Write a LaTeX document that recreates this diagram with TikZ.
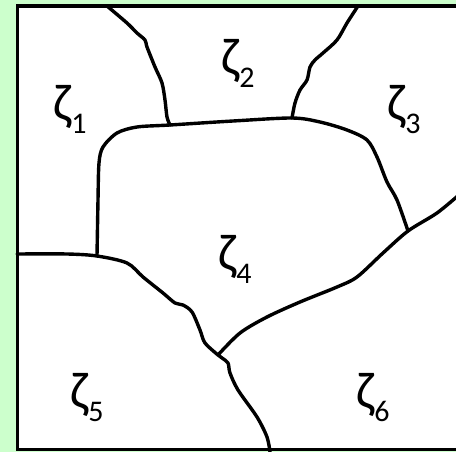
\documentclass[tikz,border=0pt]{standalone}
\usepackage{fontspec}
\setmainfont{Carlito}
\usepackage{tikz}
\usetikzlibrary{positioning}
\definecolor{bggreen}{RGB}{204,255,204}

\tikzset{
  edge/.style={line width=3.4pt,line cap=round,line join=round},
  zlab/.style={font=\fontsize{52}{52}\selectfont,inner sep=0pt}
}
\newcommand{\zsub}[1]{ζ\raisebox{-0.25em}{\fontsize{30}{30}\selectfont #1}}

\begin{document}
\begin{tikzpicture}[x=1pt,y=-1pt]
\fill[bggreen] (0,0) rectangle (456,452);
\useasboundingbox (0,0) rectangle (456,452);
\clip (0,0) rectangle (456,452);
\draw[fill=white,line width=3.8pt] (17.5,6) rectangle (470,449.5);

% corners where the borders meet
\coordinate (tl) at (170,125);
\coordinate (tr) at (292,118);
\coordinate (bl) at (97,256);
\coordinate (br) at (408,231);
\coordinate (mid) at (218,355);

\draw[edge] plot[smooth,tension=0.5] coordinates {(107,6) (127,23) (137,33) (145,40) (147,47) (155,67) (162,83) (165,100) (167,117) (tl)};
\draw[edge] plot[smooth,tension=0.5] coordinates {(358,6) (347,23) (337,40) (323,53) (315,60) (310,67) (307,80) (300,90) (295,103) (tr)};
\draw[edge] plot[smooth,tension=0.5] coordinates {(bl) (98,200) (99,163) (103,147) (117,133) (137,127) (tl) (233,121) (tr) (320,122) (347,130) (367,140) (377,157) (387,182) (397,200) (br)};
\draw[edge] plot[smooth,tension=0.5] coordinates {(460,194) (437,213) (br) (383,253) (357,277) (337,287) (300,302) (267,317) (240,333) (mid)};
\draw[edge] plot[smooth,tension=0.5] coordinates {(17,254) (67,254) (bl) (127,263) (143,277) (163,293) (175,303) (183,305) (192,312) (200,330) (205,343) (mid) (222,358) (228,363) (230,373) (238,390) (257,417) (267,437) (270,452)};

\node[zlab] (z1) at (70,109) {\zsub{1}};
\node[zlab] (z2) at (238,63) {\zsub{2}};
\node[zlab] (z3) at (404,110) {\zsub{3}};
\node[zlab] (z4) at (235,259) {\zsub{4}};
\node[zlab] (z5) at (87,398) {\zsub{5}};
\node[zlab] (z6) at (373,398) {\zsub{6}};
\end{tikzpicture}
\end{document}
